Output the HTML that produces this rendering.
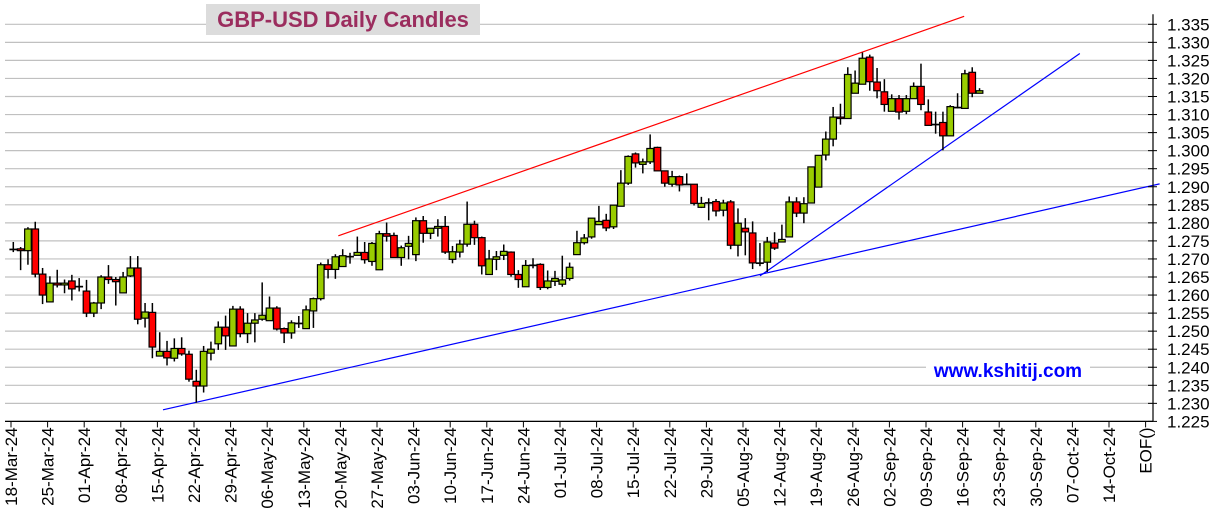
<!DOCTYPE html>
<html><head><meta charset="utf-8">
<style>
html,body{margin:0;padding:0;background:#fff;}
svg{display:block;font-family:"Liberation Sans",Arial,sans-serif;}
</style></head>
<body>
<svg id="chart" width="1217" height="526" viewBox="0 0 1217 526" xmlns="http://www.w3.org/2000/svg">
<g id="grid"></g>
<g id="trend"></g>
<g id="candles"></g>
<g id="axes"></g>
<rect x="206" y="4" width="274" height="31" fill="#dcdcdc"/>
<text x="343" y="27" text-anchor="middle" font-size="22" font-weight="bold" fill="#9b2d5e">GBP-USD Daily Candles</text>
<rect x="926" y="358" width="164" height="26" fill="#fff"/>
<text x="1008" y="377" text-anchor="middle" font-size="19" font-weight="bold" fill="#0000ff">www.kshitij.com</text>
</svg>
<script>
const opens=[1.2727,1.2728,1.2723,1.2783,1.2658,1.2581,1.2633,1.2628,1.2639,1.2624,1.2611,1.2550,1.2578,1.2650,1.2643,1.2606,1.2653,1.2675,1.2536,1.2552,1.2431,1.2444,1.2425,1.2452,1.2436,1.2361,1.2348,1.2439,1.2465,1.2511,1.2459,1.2561,1.2493,1.2522,1.2533,1.2529,1.2564,1.2507,1.2495,1.2522,1.2507,1.2556,1.2590,1.2684,1.2671,1.2679,1.2707,1.2710,1.2718,1.2693,1.2670,1.2770,1.2765,1.2704,1.2735,1.2712,1.2806,1.2771,1.2785,1.2790,1.2699,1.2719,1.2741,1.2796,1.2759,1.2657,1.2699,1.2710,1.2719,1.2657,1.2623,1.2683,1.2685,1.2621,1.2638,1.2630,1.2646,1.2712,1.2745,1.2761,1.2795,1.2807,1.2789,1.2846,1.2910,1.2991,1.2962,1.2969,1.3009,1.2944,1.2907,1.2928,1.2907,1.2907,1.2843,1.2856,1.2859,1.2835,1.2858,1.2738,1.2785,1.2772,1.2689,1.2691,1.2744,1.2747,1.2761,1.2858,1.2827,1.2855,1.2899,1.2988,1.3032,1.3093,1.3089,1.3159,1.3184,1.3259,1.3190,1.3163,1.3109,1.3144,1.3109,1.3144,1.3178,1.3107,1.3073,1.3078,1.3041,1.3120,1.3117,1.3217,1.3159];
const highs=[1.2747,1.2733,1.2788,1.2803,1.2675,1.2652,1.2670,1.2643,1.2656,1.2647,1.2642,1.2581,1.2655,1.2683,1.2650,1.2664,1.2708,1.2708,1.2578,1.2578,1.2497,1.2473,1.2480,1.2483,1.2446,1.2393,1.2459,1.2471,1.2527,1.2543,1.2570,1.2569,1.2550,1.2550,1.2635,1.2596,1.2569,1.2510,1.2530,1.2542,1.2571,1.2593,1.2690,1.2699,1.2713,1.2727,1.2717,1.2762,1.2747,1.2747,1.2778,1.2801,1.2773,1.2737,1.2764,1.2815,1.2819,1.2782,1.2810,1.2819,1.2736,1.2753,1.2859,1.2806,1.2762,1.2725,1.2722,1.2740,1.2721,1.2669,1.2697,1.2702,1.2688,1.2668,1.2667,1.2709,1.2690,1.2778,1.2769,1.2813,1.2847,1.2825,1.2849,1.2946,1.2987,1.2995,1.2978,1.3045,1.3011,1.2944,1.2944,1.2931,1.2937,1.2907,1.2872,1.2868,1.2866,1.2864,1.2863,1.2840,1.2813,1.2804,1.2744,1.2761,1.2774,1.2795,1.2873,1.2871,1.2871,1.2955,1.2987,1.3053,1.3121,1.3130,1.3231,1.3222,1.3272,1.3266,1.3229,1.3198,1.3156,1.3154,1.3154,1.3189,1.3241,1.3142,1.3108,1.3108,1.3126,1.3159,1.3224,1.3231,1.3173];
const lows=[1.2719,1.2669,1.2684,1.2649,1.2575,1.2581,1.2621,1.2605,1.2585,1.2610,1.2539,1.2539,1.2561,1.2631,1.2571,1.2606,1.2650,1.2519,1.2510,1.2425,1.2431,1.2405,1.2416,1.2432,1.2360,1.2302,1.2330,1.2419,1.2448,1.2448,1.2459,1.2483,1.2467,1.2469,1.2529,1.2529,1.2502,1.2467,1.2479,1.2509,1.2507,1.2509,1.2585,1.2646,1.2645,1.2679,1.2687,1.2710,1.2687,1.2681,1.2670,1.2748,1.2704,1.2681,1.2699,1.2694,1.2745,1.2755,1.2762,1.2714,1.2688,1.2704,1.2734,1.2739,1.2657,1.2657,1.2669,1.2697,1.2651,1.2620,1.2623,1.2674,1.2614,1.2616,1.2625,1.2623,1.2640,1.2712,1.2740,1.2756,1.2795,1.2777,1.2783,1.2846,1.2905,1.2953,1.2937,1.2963,1.2944,1.2900,1.2900,1.2887,1.2905,1.2848,1.2841,1.2807,1.2818,1.2818,1.2727,1.2707,1.2710,1.2672,1.2680,1.2664,1.2725,1.2747,1.2761,1.2816,1.2799,1.2855,1.2899,1.2973,1.3012,1.3072,1.3089,1.3159,1.3184,1.3166,1.3145,1.3108,1.3109,1.3086,1.3101,1.3144,1.3112,1.3070,1.3047,1.3001,1.3041,1.3117,1.3117,1.3148,1.3159];
const closes=[1.2727,1.2723,1.2783,1.2658,1.2600,1.2633,1.2628,1.2633,1.2617,1.2624,1.2550,1.2578,1.2650,1.2643,1.2637,1.2650,1.2675,1.2533,1.2553,1.2456,1.2444,1.2426,1.2452,1.2437,1.2367,1.2348,1.2444,1.2450,1.2511,1.2487,1.2561,1.2493,1.2522,1.2531,1.2544,1.2564,1.2506,1.2495,1.2523,1.2522,1.2559,1.2590,1.2684,1.2671,1.2706,1.2709,1.2707,1.2718,1.2698,1.2743,1.2770,1.2763,1.2704,1.2731,1.2743,1.2806,1.2771,1.2785,1.2790,1.2719,1.2720,1.2741,1.2796,1.2759,1.2681,1.2700,1.2706,1.2721,1.2657,1.2643,1.2682,1.2683,1.2621,1.2639,1.2646,1.2642,1.2677,1.2745,1.2758,1.2813,1.2804,1.2786,1.2849,1.2910,1.2984,1.2966,1.2969,1.3006,1.2944,1.2910,1.2928,1.2905,1.2907,1.2854,1.2854,1.2856,1.2833,1.2855,1.2738,1.2799,1.2775,1.2689,1.2689,1.2747,1.2730,1.2754,1.2858,1.2827,1.2853,1.2955,1.2987,1.3032,1.3093,1.3089,1.3211,1.3187,1.3256,1.3191,1.3166,1.3128,1.3144,1.3107,1.3144,1.3178,1.3128,1.3070,1.3073,1.3041,1.3122,1.3120,1.3213,1.3159,1.3166];
const dateLabels=["18-Mar-24","25-Mar-24","01-Apr-24","08-Apr-24","15-Apr-24","22-Apr-24","29-Apr-24","06-May-24","13-May-24","20-May-24","27-May-24","03-Jun-24","10-Jun-24","17-Jun-24","24-Jun-24","01-Jul-24","08-Jul-24","15-Jul-24","22-Jul-24","29-Jul-24","05-Aug-24","12-Aug-24","19-Aug-24","26-Aug-24","02-Sep-24","09-Sep-24","16-Sep-24","23-Sep-24","30-Sep-24","07-Oct-24","14-Oct-24","EOF()"];
const priceTicks=[1.225,1.230,1.235,1.240,1.245,1.250,1.255,1.260,1.265,1.270,1.275,1.280,1.285,1.290,1.295,1.300,1.305,1.310,1.315,1.320,1.325,1.330,1.335];
const redTrend=[[44.4,1.2764],[129.9,1.3372]];
const blueLongTrend=[[20.45,1.2282],[156.6,1.2908]];
const blueSteepTrend=[[102.0,1.2653],[145.7,1.3269]];

const NS="http://www.w3.org/2000/svg";
function xS(i){return 13.3+7.32*i;}
function yS(p){return 24.3+(1.335-p)*3610;}
function mk(tag,attrs,parent){const e=document.createElementNS(NS,tag);for(const k in attrs)e.setAttribute(k,attrs[k]);parent.appendChild(e);return e;}
const grid=document.getElementById('grid'),axes=document.getElementById('axes'),cg=document.getElementById('candles'),tg=document.getElementById('trend');
const AX=1153;
priceTicks.forEach(p=>{
  const y=yS(p);
  const g=mk('line',{x1:5,x2:AX,y1:y,y2:y,stroke:'#c0c0c0','stroke-width':1.2},grid);
  
  
  const t=mk('line',{x1:AX-5,x2:AX+4,y1:y,y2:y,stroke:'#000','stroke-width':1},axes);
  
  
  const l=mk('text',{x:1167,y:y+6,'font-size':17,fill:'#000'},axes);
  l.textContent=p.toFixed(3);
  
  
});
const yb=yS(1.225);
const va=mk('line',{x1:AX,x2:AX,y1:yS(1.335)-10,y2:yb,stroke:'#000','stroke-width':1.2},axes);


const ha=mk('line',{x1:5,x2:AX,y1:yb,y2:yb,stroke:'#000','stroke-width':1.2},axes);


dateLabels.forEach((d,k)=>{
  const x=xS(5*k)-2.3;
  const t=mk('line',{x1:x,x2:x,y1:yb,y2:yb+6,stroke:'#000','stroke-width':1},axes);
  
  
  const l=mk('text',{x:0,y:0,'font-size':17,fill:'#000','text-anchor':'end',transform:`translate(${x+6},${yb+6}) rotate(-90)`},axes);
  l.textContent=d;
  
  
});
[[redTrend,'#ff0000','red-resistance-line'],[blueLongTrend,'#0000ff','blue-long-support-line'],[blueSteepTrend,'#0000ff','blue-steep-support-line']].forEach(([pts,c,n])=>{
  const l=mk('line',{x1:xS(pts[0][0]),y1:yS(pts[0][1]),x2:xS(pts[1][0]),y2:yS(pts[1][1]),stroke:c,'stroke-width':1.2},tg);
  
  
});
opens.forEach((o,i)=>{
  const c=closes[i],h=highs[i],lo=lows[i],x=xS(i);
  const w=mk('line',{x1:x,x2:x,y1:yS(h),y2:yS(lo),stroke:'#000','stroke-width':1.5},cg);
  
  
  const top=yS(Math.max(o,c)),bot=yS(Math.min(o,c));
  const b=mk('rect',{x:x-3.3,y:top,width:6.6,height:Math.max(bot-top,0.5),fill:c>=o?'#99cc00':'#ff0000',stroke:'#000','stroke-width':1.2},cg);
  
  
});
</script>
</body></html>
